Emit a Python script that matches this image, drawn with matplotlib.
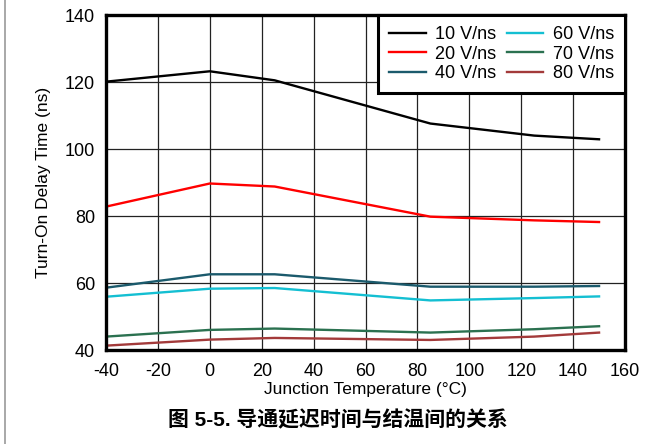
import matplotlib
matplotlib.use("Agg")
import matplotlib.pyplot as plt
from matplotlib.lines import Line2D

plt.rcParams['font.family'] = ['Liberation Sans', 'Noto Sans CJK SC', 'DejaVu Sans']
plt.rcParams['axes.unicode_minus'] = False

# 数据
temps = [-40, 0, 25, 85, 125, 150]
v10 = [120.1, 123.2, 120.5, 107.6, 104.0, 102.9]
v20 = [82.8, 89.7, 88.8, 79.8, 78.7, 78.2]
v40 = [58.6, 62.6, 62.6, 58.9, 58.9, 59.1]
v60 = [55.9, 58.3, 58.5, 54.8, 55.5, 56.0]
v70 = [44.0, 46.0, 46.4, 45.2, 46.2, 47.1]
v80 = [41.3, 43.1, 43.6, 43.0, 44.0, 45.2]

labels = ["10 V/ns", "20 V/ns", "40 V/ns", "60 V/ns", "70 V/ns", "80 V/ns"]
colors = ["#000000", "#ff0000", "#1b5a6c", "#14bfd2", "#2b7150", "#a33a3a"]
x_ticks = list(range(-40, 161, 20))
y_ticks = list(range(40, 141, 20))

fig = plt.figure(figsize=(6.63, 4.44), dpi=100)
ax = fig.add_axes([106 / 663, 1 - 350 / 444, 519 / 663, 335 / 444])

for ys, lab, c in zip([v10, v20, v40, v60, v70, v80], labels, colors):
    ax.plot(temps, ys, color=c, lw=1.7, label=lab)

ax.set_xlim(-40, 160)
ax.set_ylim(40, 140)
ax.set_xticks(x_ticks)
ax.set_yticks(y_ticks)
ax.grid(True, color="#222222", lw=0.9)
ax.set_axisbelow(True)
ax.tick_params(length=0, labelsize=13)
ax.tick_params(axis="x", pad=9)
ax.tick_params(axis="y", pad=8)
for s in ax.spines.values():
    s.set_linewidth(2.4)
    s.set_color("black")

ax.set_xlabel("Junction Temperature (°C)", fontsize=12.5, labelpad=2)
ax.set_ylabel("Turn-On Delay Time (ns)", fontsize=12.5, labelpad=10)

# 图例：上右角，两列
leg = ax.legend(ncol=2, loc="upper right", bbox_to_anchor=(1.0, 1.0),
                fontsize=13, frameon=True, fancybox=False, borderaxespad=0,
                handlelength=2.0, handletextpad=0.55, columnspacing=0.55,
                labelspacing=0.14, borderpad=0.62)
leg.get_frame().set_edgecolor("black")
leg.get_frame().set_linewidth(2.2)
leg.get_frame().set_alpha(1)

fig.text(338 / 663, 1 - 420 / 444, "图 5-5. 导通延迟时间与结温间的关系",
         ha="center", va="center", fontsize=15, fontweight="bold",
         family=['Liberation Sans', 'Noto Sans CJK SC'])

# 左侧灰色边线
fig.add_artist(Line2D([5 / 663, 5 / 663], [0, 1], color="#999999", lw=1.2,
                      transform=fig.transFigure))

fig.savefig("out.png", dpi=100)
